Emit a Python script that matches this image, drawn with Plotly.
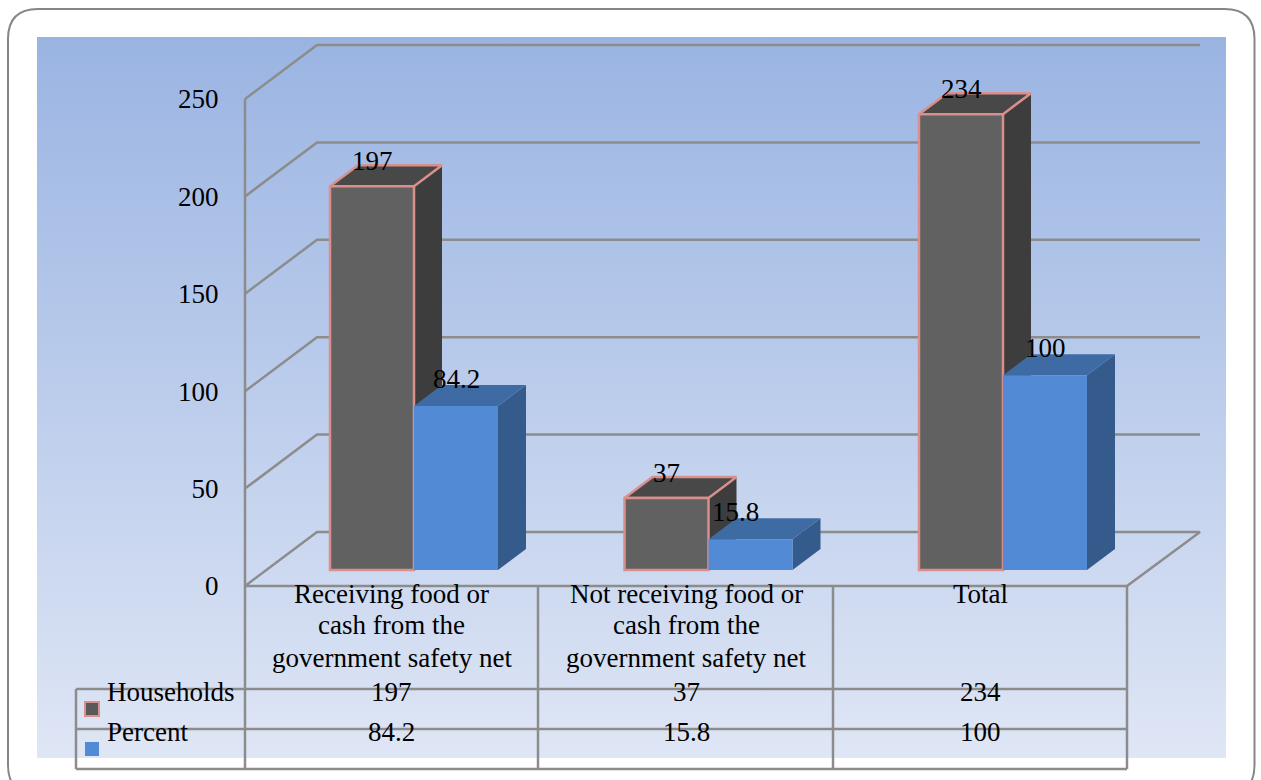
import plotly.graph_objects as go

# Chart data
categories = [
    ["Receiving food or", "cash from the", "government safety net"],
    ["Not receiving food or", "cash from the", "government safety net"],
    ["Total"],
]
series_names = ["Households", "Percent"]
households = [197, 37, 234]
percent = [84.2, 15.8, 100]
value_ticks = [0, 50, 100, 150, 200, 250]

# Page and projection constants (pixels)
W, H = 1261, 780
CAT_STEP = 294.5
CAT0_PX = 414
PX_PER_UNIT = 1.948
WALL_BASE_PX = 586
BAR_BASE_PX = 570
BAR_WIDTH = 84 / CAT_STEP
BAR_DX = 28 / CAT_STEP
BAR_DZ = 21 / PX_PER_UNIT
WALL_DZ = 54 / PX_PER_UNIT

FONT = "Liberation Serif"
FS = 27
GRID = "#8c8c8c"
SALMON = "#d98f8c"


def xv(px):
    return (px - CAT0_PX) / CAT_STEP


def wy(py):
    return (WALL_BASE_PX - py) / PX_PER_UNIT


def px_x(px):
    return px / W


def px_y(py):
    return 1 - py / H


fig = go.Figure()

# Gradient backdrop
fig.add_trace(go.Scatter(
    x=[xv(37), xv(1226), xv(1226), xv(37), xv(37)],
    y=[wy(37), wy(37), wy(758), wy(758), wy(37)],
    mode="lines", line=dict(width=0), fill="toself",
    fillgradient=dict(type="vertical", colorscale=[[0, "#dfe6f5"], [0.5, "#bccdec"], [1, "#9ab4e2"]]),
    hoverinfo="skip", showlegend=False,
))

# Back wall, side wall and floor
wall_l, wall_b, wall_r, floor_r = xv(245), xv(317), xv(1200), xv(1127)
for v in value_ticks:
    xs = [wall_l, wall_b, wall_r]
    ys = [v, v + WALL_DZ, v + WALL_DZ]
    if v == 0:
        xs += [floor_r, wall_l]
        ys += [0, 0]
    fig.add_trace(go.Scatter(x=xs, y=ys, mode="lines", line=dict(color=GRID, width=2.5),
                             hoverinfo="skip", showlegend=False))


def add_box_faces(values, left_offset, top_color, side_color, edge, yaxis):
    """Side and top faces of each bar, projected from its value."""
    for i, v in enumerate(values):
        xl = i + left_offset
        xr = xl + BAR_WIDTH
        fig.add_trace(go.Scatter(
            x=[xr, xr + BAR_DX, xr + BAR_DX, xr, xr],
            y=[0, BAR_DZ, v + BAR_DZ, v, 0],
            mode="lines", fill="toself", fillcolor=side_color, line=dict(width=0),
            yaxis=yaxis, hoverinfo="skip", showlegend=False,
        ))
        fig.add_trace(go.Scatter(
            x=[xl, xr, xr + BAR_DX, xl + BAR_DX, xl],
            y=[v, v, v + BAR_DZ, v + BAR_DZ, v],
            mode="lines", fill="toself", fillcolor=top_color,
            line=dict(width=2.5 if edge else 0, color=edge or top_color),
            yaxis=yaxis, hoverinfo="skip", showlegend=False,
        ))


xs_index = list(range(len(households)))

# Households boxes
add_box_faces(households, -BAR_WIDTH, "#484848", "#3d3d3d", SALMON, "y2")
fig.add_trace(go.Bar(
    x=xs_index, y=households, width=BAR_WIDTH, offset=-BAR_WIDTH, name=series_names[0],
    marker=dict(color="#616161", line=dict(color=SALMON, width=2.5)),
    yaxis="y3", showlegend=False, hoverinfo="skip",
))

# Percent boxes sit in front of the households side faces
add_box_faces(percent, 0, "#3f6ba4", "#355b8c", None, "y4")
fig.add_trace(go.Bar(
    x=xs_index, y=percent, width=BAR_WIDTH, offset=0, name=series_names[1],
    marker=dict(color="#538ad5", line=dict(width=0)),
    yaxis="y5", showlegend=False, hoverinfo="skip",
))

annotations = []


def text(x, y, s, xref="x", yref="y", **kw):
    annotations.append(dict(x=x, y=y, text=s, xref=xref, yref=yref, showarrow=False,
                            font=dict(family=FONT, size=FS, color="#000000"), **kw))


# Value labels above each box
for i, (a, b) in enumerate(zip(households, percent)):
    text(i - BAR_WIDTH / 2, a, str(a), yref="y3", yshift=25)
    text(i + BAR_WIDTH / 2, b, str(b), yref="y5", yshift=27, xshift=-15 if b == 15.8 else 0)

# Category cells and data table rows
CELL_SHIFT = -22.5
LINE_PX = [611, 642, 675]
for i, lines in enumerate(categories):
    for line, py in zip(lines, LINE_PX):
        text(i, px_y(py), line, yref="paper", xshift=CELL_SHIFT)
    text(i, px_y(709), str(households[i]), yref="paper", xshift=CELL_SHIFT)
    text(i, px_y(749), str(percent[i]), yref="paper", xshift=CELL_SHIFT)

text(px_x(105), px_y(709), series_names[0], xref="paper", yref="paper", xanchor="left")
text(px_x(105), px_y(749), series_names[1], xref="paper", yref="paper", xanchor="left")

shapes = []


def seg(x0, y0, x1, y1):
    shapes.append(dict(type="line", xref="paper", yref="paper",
                       x0=px_x(x0), y0=px_y(y0), x1=px_x(x1), y1=px_y(y1),
                       line=dict(color=GRID, width=2.5)))


# Table grid
seg(245, 99, 245, 769)
for px in (538, 833, 1127):
    seg(px, 586, px, 769)
for py in (689, 729, 769):
    seg(76, py, 1127, py)
seg(76, 689, 76, 769)

# Legend keys
shapes.append(dict(type="rect", xref="paper", yref="paper",
                   x0=px_x(85), x1=px_x(99), y0=px_y(702), y1=px_y(716),
                   fillcolor="#595959", line=dict(color=SALMON, width=2)))
shapes.append(dict(type="rect", xref="paper", yref="paper",
                   x0=px_x(85), x1=px_x(99), y0=px_y(742), y1=px_y(756),
                   fillcolor="#538ad5", line=dict(width=0)))

# Rounded page frame
l, t, r, b, rad = px_x(8), px_y(9), px_x(1254.5), px_y(795), 30
rx, ry = rad / W, rad / H
shapes.append(dict(
    type="path", xref="paper", yref="paper",
    path=(f"M {l + rx} {t} L {r - rx} {t} Q {r} {t} {r} {t - ry} "
          f"L {r} {b + ry} Q {r} {b} {r - rx} {b} L {l + rx} {b} "
          f"Q {l} {b} {l} {b + ry} L {l} {t - ry} Q {l} {t} {l + rx} {t} Z"),
    line=dict(color="#868686", width=2), fillcolor="rgba(0,0,0,0)",
))

wall_range = [wy(H), wy(0)]
bar_range = [(BAR_BASE_PX - H) / PX_PER_UNIT, BAR_BASE_PX / PX_PER_UNIT]
overlay = dict(range=bar_range, overlaying="y", visible=False, fixedrange=True)

fig.update_layout(
    width=W, height=H, autosize=False,
    margin=dict(l=0, r=0, t=0, b=0, pad=0),
    paper_bgcolor="#ffffff", plot_bgcolor="rgba(0,0,0,0)",
    showlegend=False,
    xaxis=dict(range=[xv(0), xv(W)], visible=False, fixedrange=True, domain=[0, 1]),
    yaxis=dict(
        range=wall_range, tickmode="array", tickvals=value_ticks,
        ticktext=[str(v) for v in value_ticks],
        tickfont=dict(family=FONT, size=FS, color="#000000"),
        showgrid=False, zeroline=False, showline=False,
        ticks="outside", ticklen=21, tickcolor="rgba(0,0,0,0)",
        anchor="free", position=245 / W, side="left", fixedrange=True, domain=[0, 1],
    ),
    yaxis2=overlay, yaxis3=overlay, yaxis4=overlay, yaxis5=overlay,
    annotations=annotations, shapes=shapes,
)

fig.write_html("out.html")
